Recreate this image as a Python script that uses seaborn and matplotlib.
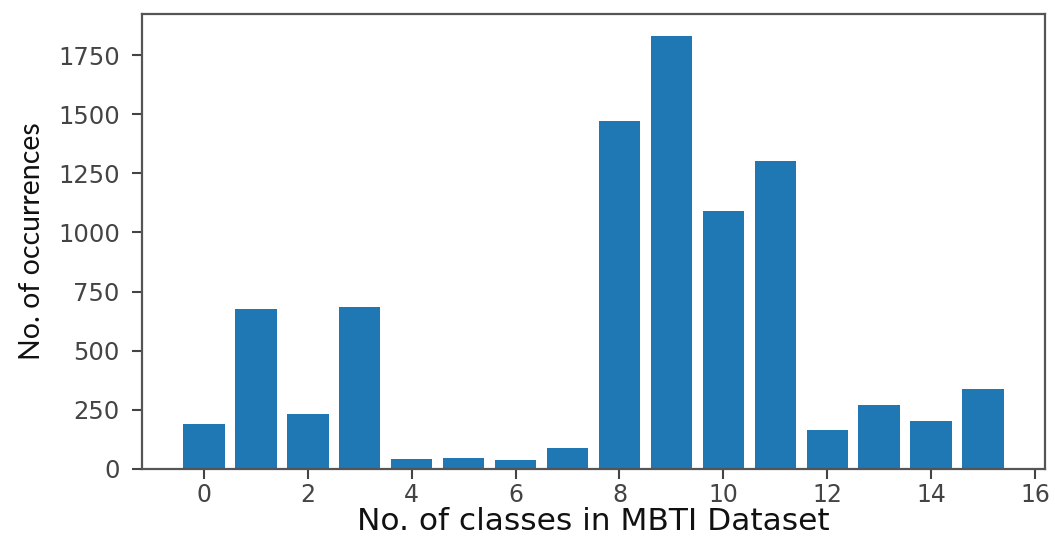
import matplotlib
matplotlib.use("Agg")
import matplotlib.pyplot as plt
import seaborn as sns
import pandas as pd

classes = list(range(16))
occurrences = [190, 675, 231, 685, 42, 48, 39, 89, 1470, 1832, 1091, 1304, 166, 271, 205, 337]
x_label = "No. of classes in MBTI Dataset"
y_label = "No. of occurrences"

df = pd.DataFrame({"cls": classes, "n": occurrences})

fig = plt.figure(figsize=(10.55, 5.36), dpi=100)
ax = fig.add_axes([142/1055, 1 - 469/536, (1045-142)/1055, (469-14)/536])
sns.barplot(data=df, x="cls", y="n", native_scale=True, color="#1f77b4",
            saturation=1, width=0.8, ax=ax, errorbar=None)
ax.set_xlim(-1.19, 16.19)
ax.set_xticks(range(0, 17, 2))
ax.set_yticks(range(0, 2000, 250))
ax.tick_params(axis="both", labelsize=17.5, colors="#444444", labelcolor="#444444",
               length=7, width=1.5)
ax.tick_params(axis="y", pad=9)
ax.tick_params(axis="x", pad=3, labelsize=17)
for s in ax.spines.values():
    s.set_color("#555555")
    s.set_linewidth(1.6)
ax.set_xlabel(x_label, fontsize=22.5, family=["DejaVu Sans"], color="#111111", labelpad=0)
ax.set_ylabel(y_label, fontsize=20.5, family=["Lato", "DejaVu Sans"], color="#111111", labelpad=9)
fig.savefig("out.png", dpi=100)
